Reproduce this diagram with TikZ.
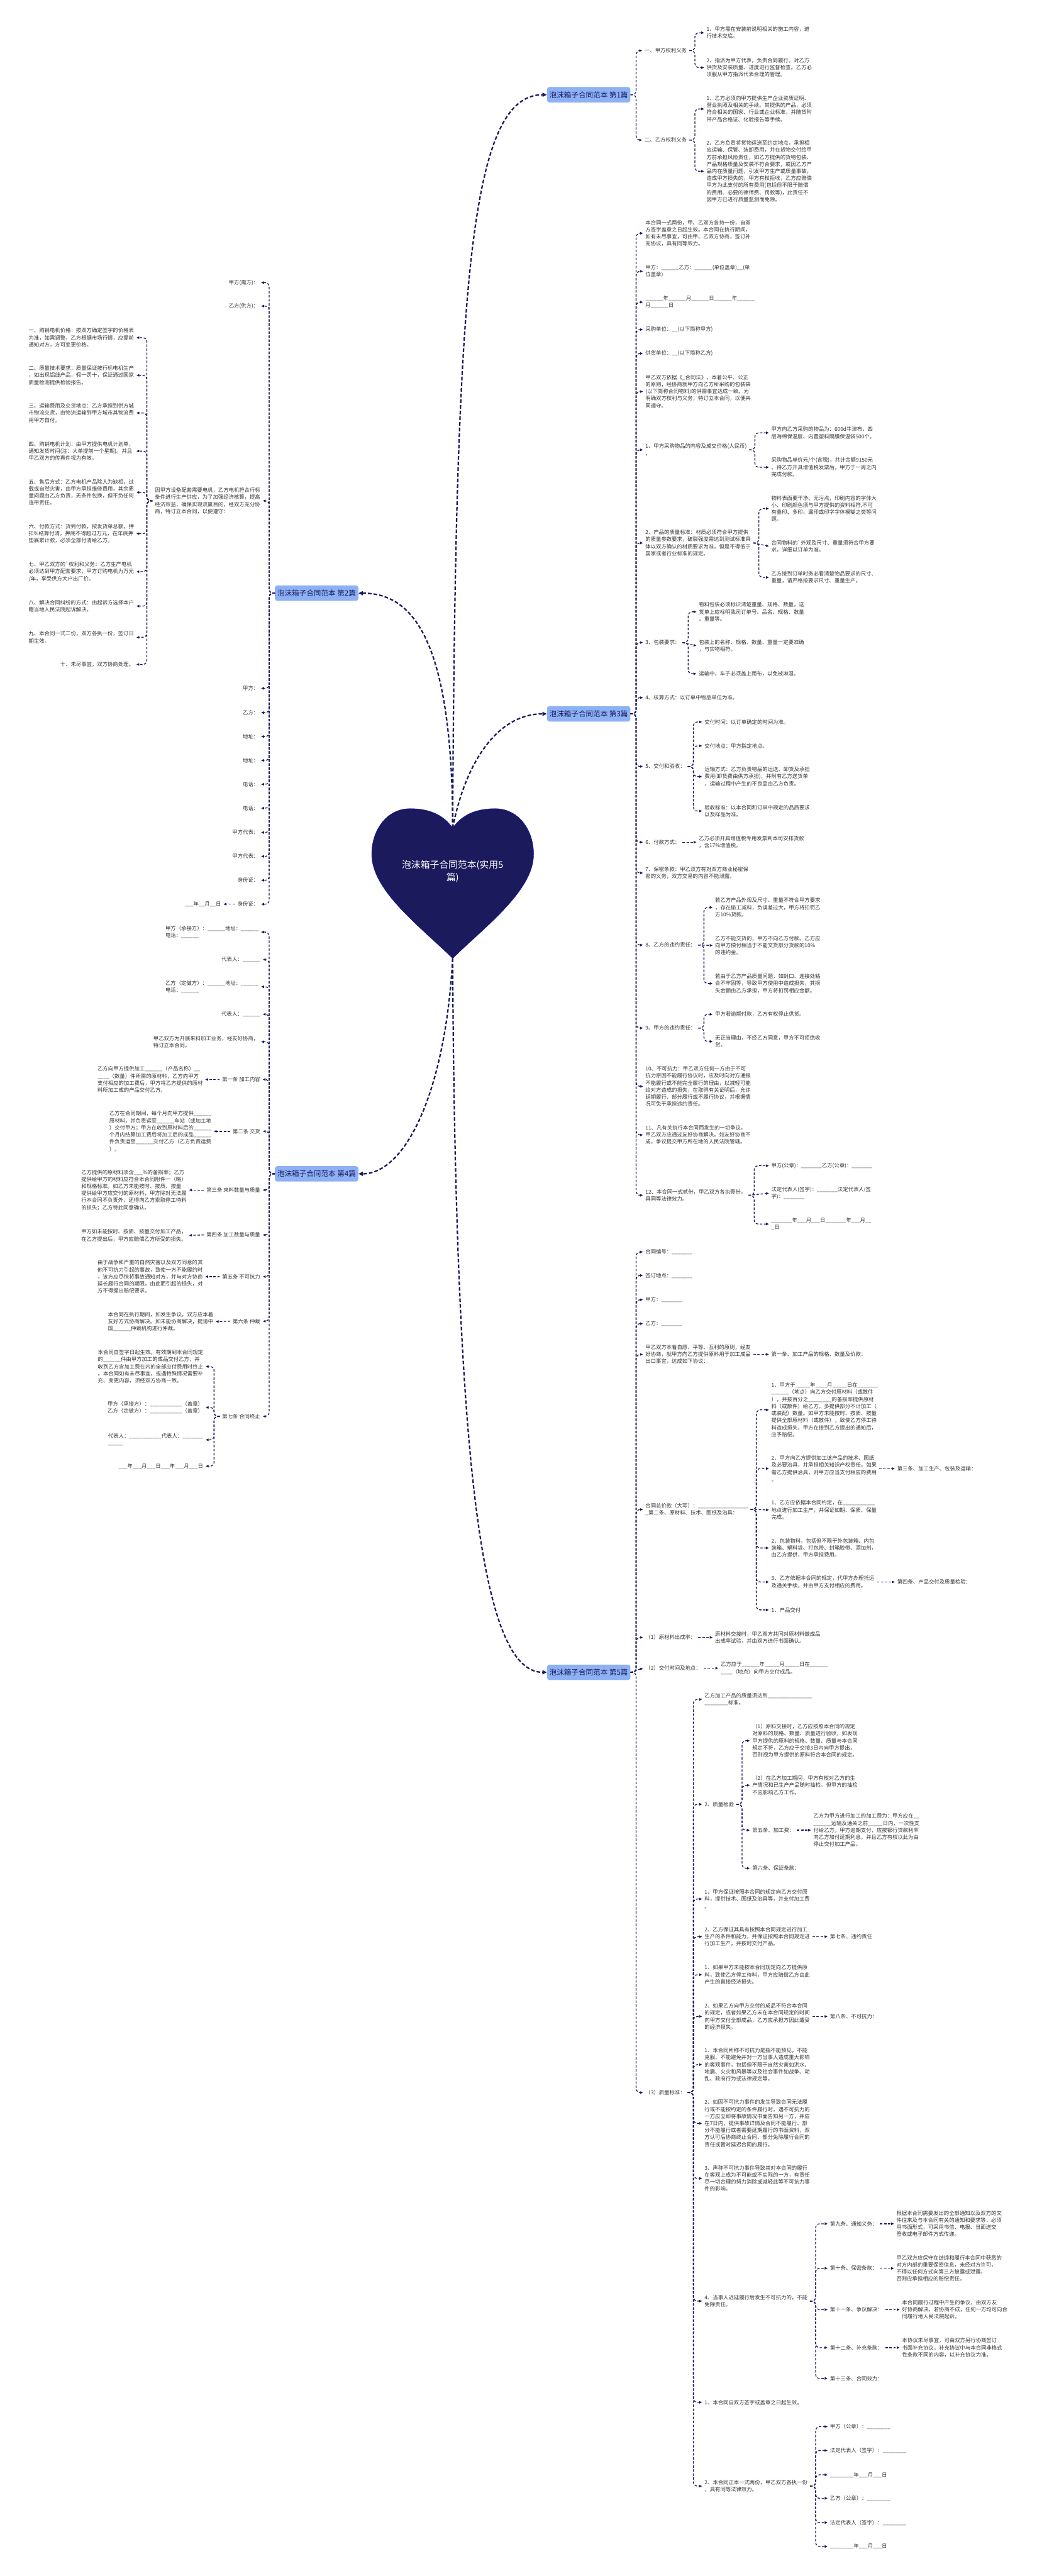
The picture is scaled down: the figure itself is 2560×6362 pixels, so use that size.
\documentclass[tikz,border=0pt]{standalone}
\usepackage{fontspec}
\setmainfont{Noto Sans CJK SC}
\usetikzlibrary{arrows.meta}
\definecolor{navy}{HTML}{1B1A5C}
\definecolor{bblue}{HTML}{8DB1F5}
\definecolor{txt}{HTML}{333333}
\newcommand\ub[1]{\foreach\ubi in {1,...,#1}{\_}}
\newcommand\rcon[2]{\draw[conn] (#1.east) -- ++(14,0) |- (#2.west);}
\newcommand\lcon[2]{\draw[conn] (#1.west) -- ++(-14,0) |- (#2.east);}
\newcommand\rstr[2]{\draw[conn] (#1.east) -- (#2.west);}
\newcommand\lstr[2]{\draw[conn] (#1.west) -- (#2.east);}
\begin{document}
\begin{tikzpicture}[x=1pt,y=-1pt,
  every node/.style={font=\fontsize{13}{17.4}\selectfont, text=txt, inner xsep=6pt, inner ysep=2pt, align=left},
  rt/.style={anchor=west},
  lt/.style={anchor=east},
  branch/.style={fill=bblue, rounded corners=6pt, minimum width=202pt, minimum height=38pt, font=\fontsize{18}{22}\selectfont, text=navy, anchor=center, align=center},
  conn/.style={draw=navy, line width=2pt, dash pattern=on 6pt off 4pt, rounded corners=10pt, -{Triangle[length=7pt,width=6pt]}},
  trunk/.style={draw=navy, line width=3.5pt, dash pattern=on 9pt off 5pt, -{Triangle[length=11pt,width=10pt]}}]
\fill[white] (0,0) rectangle (2560,6362);
\useasboundingbox (0,0) rectangle (2560,6362);

% ---------- heart ----------
\fill[navy, draw=blue!60!navy, line width=0.6pt] (1118,2045)
  .. controls (1095,2012) and (1060,1997) .. (1013,1997)
  .. controls (955,1997) and (918,2050) .. (918,2110)
  .. controls (918,2200) and (1040,2290) .. (1118,2367)
  .. controls (1196,2290) and (1318,2200) .. (1318,2110)
  .. controls (1318,2050) and (1281,1997) .. (1223,1997)
  .. controls (1176,1997) and (1141,2012) .. (1118,2045) -- cycle;
\coordinate (htop) at (1118,2045);
\coordinate (hbot) at (1118,2367);
\node[font=\fontsize{23}{31}\selectfont, text=white, align=center] (ht) at (1118,2152) {泡沫箱子合同范本(实用5\\篇)};

% ---------- branch nodes ----------
\node[branch] (b1) at (1454,234) {泡沫箱子合同范本 第1篇};
\node[branch] (b2) at (782,1465) {泡沫箱子合同范本 第2篇};
\node[branch] (b3) at (1454,1763) {泡沫箱子合同范本 第3篇};
\node[branch] (b4) at (782,2899) {泡沫箱子合同范本 第4篇};
\node[branch] (b5) at (1454,4130) {泡沫箱子合同范本 第5篇};

\draw[trunk] (htop) .. controls (1125,700) and (1160,234) .. (b1.west);
\draw[trunk] (htop) .. controls (1150,1880) and (1230,1763) .. (b3.west);
\draw[trunk] (htop) .. controls (1118,1560) and (1010,1465) .. (b2.east);
\draw[trunk] (hbot) .. controls (1100,2700) and (1000,2899) .. (b4.east);
\draw[trunk] (hbot) .. controls (1125,3700) and (1200,4130) .. (b5.west);

% ---------- 第1篇 ----------
\node[rt] (a1) at (1586,125) {一、甲方权利义务};
\node[rt] (a2) at (1586,346) {二、乙方权利义务};
\node[rt] (a11) at (1739,81) {1、甲方需在安装前说明相关的施工内容，进\\行技术交底。};
\node[rt] (a12) at (1739,167) {2、指派为甲方代表，负责合同履行。对乙方\\供货及安装质量、进度进行监督检查。乙方必\\须服从甲方指派代表合理的管理。};
\node[rt] (a21) at (1739,269) {1、乙方必须向甲方提供生产企业资质证明、\\营业执照及相关的手续。其提供的产品，必须\\符合相关的国家、行业或企业标准，并随货附\\带产品合格证、化验报告等手续。};
\node[rt] (a22) at (1739,423) {2、乙方负责将货物运送至约定地点，承担相\\应运输、保管、装卸费用，并在货物交付给甲\\方前承担风险责任，如乙方提供的货物包装、\\产品规格质量及安装不符合要求，或因乙方产\\品内在质量问题，引发甲方生产或质量事故，\\造成甲方损失的，甲方有权拒收，乙方应赔偿\\甲方为此支付的所有费用(包括但不限于赔偿\\的费用、必要的律师费、罚款等)，此责任不\\因甲方已进行质量监测而免除。};
\rcon{b1}{a1} \rcon{b1}{a2}
\rcon{a1}{a11} \rcon{a1}{a12}
\rcon{a2}{a21} \rcon{a2}{a22}

% ---------- 第3篇 ----------
\node[rt] (c1) at (1588,576) {本合同一式两份，甲、乙双方各持一份，自双\\方签字盖章之日起生效。本合同在执行期间，\\如有未尽事宜，可由甲、乙双方协商，签订补\\充协议，具有同等效力。};
\node[rt] (c2) at (1588,670) {甲方：\ub6乙方：\ub6(单位盖章)\ub2(单\\位盖章)};
\node[rt] (c3) at (1588,746) {\ub6年\ub6月\ub6日\ub6年\ub6\\月\ub6日};
\node[rt] (c4) at (1588,814) {采购单位：\ub2(以下简称甲方)};
\node[rt] (c5) at (1588,873) {供货单位：\ub2(以下简称乙方)};
\node[rt] (c6) at (1588,967) {甲乙双方依据《\_合同法》，本着公平、公正\\的原则，经协商就甲方向乙方所采购的包装袋\\(以下简称合同物料)的供需事宜达成一致。为\\明确双方权利与义务，特订立本合同，以便共\\同遵守。};
\node[rt] (c7) at (1588,1111) {1、甲方采购物品的内容及成交价格(人民币)\\。};
\node[rt] (c71) at (1899,1069) {甲方向乙方采购的物品为：600d牛津布、四\\层海绵保温层、内置塑料隔膜保温袋500个。};
\node[rt] (c72) at (1899,1154) {采购物品单价元/个(含税)，共计金额9150元\\。待乙方开具增值税发票后，甲方于一周之内\\完成付款。};
\node[rt] (c8) at (1588,1341) {2、产品的质量标准：材质必须符合甲方提供\\的质量参数要求，破裂强度需达到测试标准具\\体以双方确认的材质要求为准，但是不得低于\\国家或者行业标准的规定。};
\node[rt] (c81) at (1899,1256) {物料表面要干净、无污点，印刷内容的字体大\\小、印刷颜色须与甲方提供的资料相符,不可\\有叠印、多印、漏印或印字字体模糊之类等问\\题。};
\node[rt] (c82) at (1899,1349) {合同物料的\textasciigrave 外观及尺寸、重量须符合甲方要\\求，详细以订单为准。};
\node[rt] (c83) at (1899,1426) {乙方接到订单时务必看清楚物品要求的尺寸、\\重量，请严格按要求尺寸、重量生产。};
\node[rt] (c9) at (1588,1587) {3、包装要求：};
\node[rt] (c91) at (1720,1511) {物料包装必须标识清楚重量、规格、数量，送\\货单上应标明我司订单号、品名、规格、数量\\、重量等。};
\node[rt] (c92) at (1720,1595) {包装上的名称、规格、数量、重量一定要准确\\，与实物相符。};
\node[rt] (c93) at (1720,1664) {运输中，车子必须盖上雨布，以免被淋湿。};
\node[rt] (c10) at (1588,1723) {4、核算方式：以订单中物品单位为准。};
\node[rt] (c11) at (1588,1893) {5、交付和验收：};
\node[rt] (c111) at (1734,1783) {交付时间：以订单确定的时间为准。};
\node[rt] (c112) at (1734,1842) {交付地点：甲方指定地点。};
\node[rt] (c113) at (1734,1918) {运输方式：乙方负责物品的运送、卸货及承担\\费用(卸货费由供方承担)，并附有乙方送货单\\，运输过程中产生的不良品由乙方负责。};
\node[rt] (c114) at (1734,2003) {验收标准：以本合同和订单中规定的品质要求\\以及样品为准。};
\node[rt] (c12) at (1588,2080) {6、付款方式：};
\node[rt] (c121) at (1720,2080) {乙方必须开具增值税专用发票到本司安排货款\\，含17\%增值税。};
\node[rt] (c13) at (1588,2156) {7、保密条款：甲乙双方有对双方商业秘密保\\密的义务，双方交易的内容不能泄露。};
\node[rt] (c14) at (1588,2334) {8、乙方的违约责任：};
\node[rt] (c141) at (1760,2241) {若乙方产品外观及尺寸、重量不符合甲方要求\\，存在偷工减料，负误差过大，甲方将扣罚乙\\方10\%货款。};
\node[rt] (c142) at (1760,2335) {乙方不能交货的，甲方不向乙方付款。乙方应\\向甲方偿付相当于不能交货部分货款的10\%\\的违约金。};
\node[rt] (c143) at (1760,2429) {若由于乙方产品质量问题，如封口、连接处粘\\合不牢固等，导致甲方使用中造成损失，其损\\失金额由乙方承担，甲方将扣罚相应金额。};
\node[rt] (c15) at (1588,2539) {9、甲方的违约责任：};
\node[rt] (c151) at (1760,2505) {甲方若逾期付款，乙方有权停止供货。};
\node[rt] (c152) at (1760,2572) {无正当理由，不经乙方同意，甲方不可拒绝收\\货。};
\node[rt] (c16) at (1588,2683) {10、不可抗力：甲乙双方任何一方由于不可\\抗力原因不能履行协议时，应及时向对方通报\\不能履行或不能完全履行的理由，以减轻可能\\给对方造成的损失，在取得有关证明后，允许\\延期履行、部分履行或不履行协议，并根据情\\况可免于承担违约责任。};
\node[rt] (c17) at (1588,2803) {11、凡有关执行本合同而发生的一切争议，\\甲乙双方应通过友好协商解决。如友好协商不\\成，争议提交甲方所在地的人民法院管辖。};
\node[rt] (c18) at (1588,2952) {12、本合同一式贰份，甲乙双方各执壹份，\\具同等法律效力。};
\node[rt] (c181) at (1899,2879) {甲方(公章)：\ub7乙方(公章)：\ub7};
\node[rt] (c182) at (1899,2947) {法定代表人(签字)：\ub7法定代表人(签\\字)：\ub7};
\node[rt] (c183) at (1899,3023) {\ub7年\ub3月\ub3日\ub7年\ub3月\ub2\\\_日};
\foreach \n in {c1,c2,c3,c4,c5,c6,c7,c8,c9,c10,c11,c12,c13,c14,c15,c16,c17,c18} {\rcon{b3}{\n}}
\rcon{c7}{c71} \rcon{c7}{c72}
\rcon{c8}{c81} \rstr{c8}{c82} \rcon{c8}{c83}
\rcon{c9}{c91} \rstr{c9}{c92} \rcon{c9}{c93}
\rcon{c11}{c111} \rcon{c11}{c112} \rcon{c11}{c113} \rcon{c11}{c114}
\rstr{c12}{c121}
\rcon{c14}{c141} \rstr{c14}{c142} \rcon{c14}{c143}
\rcon{c15}{c151} \rcon{c15}{c152}
\rcon{c18}{c181} \rstr{c18}{c182} \rcon{c18}{c183}

% ---------- 第5篇 ----------
\node[rt] (d1) at (1588,3092) {合同编号：\ub7};
\node[rt] (d2) at (1588,3150) {签订地点：\ub7};
\node[rt] (d3) at (1588,3210) {甲方：\ub7};
\node[rt] (d4) at (1588,3269) {乙方：\ub7};
\node[rt] (d5) at (1588,3345) {甲乙双方本着自愿、平等、互利的原则，经友\\好协商，就甲方向乙方提供原料用于加工成品\\出口事宜，达成如下协议：};
\node[rt] (d51) at (1899,3345) {第一条、加工产品的规格、数量及价款：};
\node[rt] (d6) at (1588,3728) {合同总价款（大写）：\ub{17}\\\_第二条、原材料、技术、图纸及治具：};
\node[rt] (d61) at (1899,3482) {1、甲方于\ub5年\ub4月\ub5日在\ub7\\\ub6（地点）向乙方交付原材料（或散件\\），并按百分之\ub8的备损率提供原材\\料（或散件）给乙方，多提供部分不计加工（\\或装配）数量。如甲方未能按时、按质、按量\\提供全部原材料（或散件），致使乙方停工待\\料造成损失，甲方在接到乙方提出的通知后，\\应予赔偿。};
\node[rt] (d62) at (1899,3627) {2、甲方向乙方提供加工该产品的技术、图纸\\及必要治具，并承担相关知识产权责任。如果\\需乙方提供治具，则甲方应当支付相应的费用\\。};
\node[rt] (d621) at (2210,3627) {第三条、加工生产、包装及运输：};
\node[rt] (d63) at (1899,3729) {1、乙方应依据本合同约定，在\ub{11}\\地点进行加工生产，并保证如期、保质、保量\\完成。};
\node[rt] (d64) at (1899,3823) {2、包装物料，包括但不限于外包装箱、内包\\装箱、塑料袋、打包带、封箱胶带、添加剂，\\由乙方提供，甲方承担费用。};
\node[rt] (d65) at (1899,3907) {3、乙方依据本合同的规定，代甲方办理托运\\及通关手续，并由甲方支付相应的费用。};
\node[rt] (d651) at (2210,3907) {第四条、产品交付及质量检验：};
\node[rt] (d66) at (1899,3976) {1、产品交付};
\node[rt] (d7) at (1588,4044) {（1）原材料出成率：};
\node[rt] (d71) at (1760,4044) {原材料交接时，甲乙双方共同对原材料做成品\\出成率试验，并由双方进行书面确认。};
\node[rt] (d8) at (1588,4120) {（2）交付时间及地点：};
\node[rt] (d81) at (1774,4120) {乙方应于\ub6年\ub5月\ub5日在\ub6\\\ub4（地点）向甲方交付成品。};
\node[rt] (d9) at (1588,5168) {（3）质量标准：};
\node[rt] (e91) at (1734,4197) {乙方加工产品的质量须达到\ub{15}\\\ub8标准。};
\node[rt] (e92) at (1734,4456) {2、质量检验};
\node[rt] (e921) at (1852,4299) {（1）原料交接时，乙方应按照本合同的规定\\对原料的规格、数量、质量进行验收，如发现\\甲方提供的原料的规格、数量、质量与本合同\\规定不符，乙方应于交接3日内向甲方提出，\\否则视为甲方提供的原料符合本合同的规定。};
\node[rt] (e922) at (1852,4409) {（2）在乙方加工期间，甲方有权对乙方的生\\产情况和已生产产品随时抽检。但甲方的抽检\\不应影响乙方工作。};
\node[rt] (e923) at (1852,4520) {第五条、加工费：};
\node[rt] (e9231) at (2003,4520) {乙方为甲方进行加工的加工费为：甲方应在\_\_\\\ub6运输及通关之前\ub5日内，一次性支\\付给乙方，甲方逾期支付，应按银行贷款利率\\向乙方加付延期利息，并且乙方有权以此为由\\停止交付加工产品。};
\node[rt] (e924) at (1852,4614) {第六条、保证条款：};
\node[rt] (e93) at (1734,4690) {1、甲方保证按照本合同的规定向乙方交付原\\料，提供技术、图纸及治具等，并支付加工费\\。};
\node[rt] (e94) at (1734,4783) {2、乙方保证其具有按照本合同规定进行加工\\生产的条件和能力，并保证按照本合同规定进\\行加工生产，并按时交付产品。};
\node[rt] (e941) at (2044,4783) {第七条、违约责任};
\node[rt] (e95) at (1734,4877) {1、如果甲方未能按本合同规定向乙方提供原\\料，致使乙方停工待料，甲方应赔偿乙方由此\\产生的直接经济损失。};
\node[rt] (e96) at (1734,4980) {2、如果乙方向甲方交付的成品不符合本合同\\的规定，或者如果乙方未在本合同规定的时间\\向甲方交付全部成品，乙方应承担方因此遭受\\的经济损失。};
\node[rt] (e961) at (2044,4980) {第八条、不可抗力：};
\node[rt] (e97) at (1734,5099) {1、本合同所称不可抗力是指不能预见，不能\\克服、不能避免并对一方当事人造成重大影响\\的客观事件，包括但不限于自然灾害如洪水、\\地震、火灾和风暴等以及社会事件如战争、动\\乱、政府行为或法律规定等。};
\node[rt] (e98) at (1734,5244) {2、如因不可抗力事件的发生导致合同无法履\\行或不能按约定的条件履行时，遇不可抗力的\\一方应立即将事故情况书面告知另一方，并应\\在7日内，提供事故详情及合同不能履行、部\\分不能履行或者需要延期履行的书面资料，双\\方认可后协商终止合同、部分免除履行合同的\\责任或暂时延迟合同的履行。};
\node[rt] (e99) at (1734,5380) {3、声称不可抗力事件导致其对本合同的履行\\在客观上成为不可能或不实际的一方，有责任\\尽一切合理的努力消除或减轻此等不可抗力事\\件的影响。};
\node[rt] (e910) at (1734,5683) {4、当事人迟延履行后发生不可抗力的，不能\\免除责任。};
\node[rt] (g1) at (2044,5492) {第九条、通知义务：};
\node[rt] (g11) at (2208,5492) {根据本合同需要发出的全部通知以及双方的文\\件往来及与本合同有关的通知和要求等，必须\\用书面形式，可采用书信、电报、当面送交\\签收或电子邮件方式传递。};
\node[rt] (g2) at (2044,5602) {第十条、保密条款：};
\node[rt] (g21) at (2208,5602) {甲乙双方应保守在结缔和履行本合同中获悉的\\对方内部的重要保密信息，未经对方许可，\\不得以任何方式向第三方披露或泄露，\\否则应承担相应的赔偿责任。};
\node[rt] (g3) at (2044,5704) {第十一条、争议解决：};
\node[rt] (g31) at (2222,5704) {本合同履行过程中产生的争议，由双方友\\好协商解决。若协商不成，任何一方均可向合\\同履行地人民法院起诉。};
\node[rt] (g4) at (2044,5798) {第十二条、补充条款：};
\node[rt] (g41) at (2222,5798) {本协议未尽事宜，可由双方另行协商签订\\书面补充协议，补充协议中与本合同非格式\\性条款不同的内容，以补充协议为准。};
\node[rt] (g5) at (2044,5874) {第十三条、合同效力：};
\node[rt] (e911) at (1734,5933) {1、本合同自双方签字或盖章之日起生效。};
\node[rt] (e912) at (1734,6140) {2、本合同正本一式两份，甲乙双方各执一份\\，具有同等法律效力。};
\node[rt] (h1) at (2044,5993) {甲方（公章）：\ub8};
\node[rt] (h2) at (2044,6052) {法定代表人（签字）：\ub8};
\node[rt] (h3) at (2044,6112) {\ub8年\ub3月\ub3日};
\node[rt] (h4) at (2044,6170) {乙方（公章）：\ub8};
\node[rt] (h5) at (2044,6230) {法定代表人（签字）：\ub8};
\node[rt] (h6) at (2044,6289) {\ub8年\ub3月\ub3日};
\foreach \n in {d1,d2,d3,d4,d5,d6,d7,d9} {\rcon{b5}{\n}}
\rstr{b5}{d8}
\rstr{d5}{d51}
\rcon{d6}{d61} \rcon{d6}{d62} \rstr{d6}{d63} \rcon{d6}{d64} \rcon{d6}{d65} \rcon{d6}{d66}
\rstr{d62}{d621} \rstr{d65}{d651}
\rstr{d7}{d71} \rstr{d8}{d81}
\foreach \n in {e91,e92,e93,e94,e95,e96,e97,e98,e99,e910,e911,e912} {\rcon{d9}{\n}}
\rcon{e92}{e921} \rcon{e92}{e922} \rcon{e92}{e923} \rcon{e92}{e924}
\rstr{e923}{e9231}
\rstr{e94}{e941} \rstr{e96}{e961}
\foreach \n in {g1,g2,g3,g4,g5} {\rcon{e910}{\n}}
\rstr{g1}{g11} \rstr{g2}{g21} \rstr{g3}{g31} \rstr{g4}{g41}
\foreach \n in {h1,h2,h3,h4,h5,h6} {\rcon{e912}{\n}}

% ---------- 第2篇 ----------
\node[lt] (p1) at (645,698) {甲方(需方)：};
\node[lt] (p2) at (645,756) {乙方(供方)：};
\node[lt] (p3) at (649,1237) {因甲方设备配套需要电机，乙方电机符合行标\\条件进行生产供应，为了加强经济核算，提高\\经济效益，确保实现双赢目的，经双方充分协\\商，特订立本合同，以便遵守：};
\node[lt] (p31) at (337,834) {一、购销电机价格：按双方确定签字的价格表\\为准，如需调整，乙方根据市场行情，应提前\\通知对方，方可变更价格。};
\node[lt] (p32) at (337,927) {二、质量技术要求：质量保证按行标电机生产\\，如出现铝线产品，假一罚十，保证通过国家\\质量检测提供检验报告。};
\node[lt] (p33) at (337,1020) {三、运输费用及交货地点：乙方承担到供方城\\市物流交货，由物流运输到甲方城市其物流费\\用甲方自付。};
\node[lt] (p34) at (337,1114) {四、购销电机计划：由甲方提供电机计划单，\\通知发货时间(注：大单提前一个星期)。并且\\甲乙双方的传真件视为有效。};
\node[lt] (p35) at (337,1216) {五、售后方式：乙方电机产品除人为缺相，过\\载或自然灾害，由甲方承担维修费用，其余质\\量问题由乙方负责，无条件包换，但不负任何\\连带责任。};
\node[lt] (p36) at (337,1318) {六、付款方式：货到付款，按发货单总额，押\\扣\%结算付清，押底不得超过万元，在年底押\\垫底累计款，必须全部付清给乙方。};
\node[lt] (p37) at (337,1412) {七、甲乙双方的\textasciigrave 权利和义务：乙方生产电机\\必须达到甲方配套要求，甲方订购电机为万元\\/年，享受供方大户出厂价。};
\node[lt] (p38) at (337,1497) {八、解决合同纠纷的方式：由起诉方选择本户\\籍当地人民法院起诉解决。};
\node[lt] (p39) at (337,1574) {九、本合同一式二份，双方各执一份，签订日\\期生效。};
\node[lt] (p310) at (337,1641) {十、未尽事宜，双方协商处理。};
\node[lt] (p4) at (645,1700) {甲方：};
\node[lt] (p5) at (645,1760) {乙方：};
\node[lt] (p6) at (645,1819) {地址：};
\node[lt] (p7) at (645,1878) {地址：};
\node[lt] (p8) at (645,1937) {电话：};
\node[lt] (p9) at (645,1996) {电话：};
\node[lt] (p10) at (645,2056) {甲方代表：};
\node[lt] (p11) at (645,2115) {甲方代表：};
\node[lt] (p12) at (645,2174) {身份证：};
\node[lt] (p13) at (645,2233) {身份证：};
\node[lt] (p131) at (552,2233) {\ub3年\ub2月\ub2日};
\foreach \n in {p1,p2,p3,p4,p5,p6,p7,p8,p9,p10,p11,p12,p13} {\lcon{b2}{\n}}
\foreach \n in {p31,p32,p33,p34,p35,p36,p37,p38,p39,p310} {\lcon{p3}{\n}}
\lstr{p13}{p131}

% ---------- 第4篇 ----------
\node[lt] (q1) at (645,2302) {甲方（承接方）：\ub6地址：\ub6\\电话：\ub6};
\node[lt] (q2) at (649,2370) {代表人：\ub6};
\node[lt] (q3) at (645,2437) {乙方（定做方）：\ub6地址：\ub6\\电话：\ub6};
\node[lt] (q4) at (649,2505) {代表人：\ub6};
\node[lt] (q5) at (645,2573) {甲乙双方为开展来料加工业务，经友好协商，\\特订立本合同。};
\node[lt] (q6) at (649,2666) {第一条 加工内容};
\node[lt] (q61) at (507,2666) {乙方向甲方提供加工\ub6（产品名称）\ub2\\\ub4（数量）件所需的原材料，乙方向甲方\\支付相应的加工费后，甲方将乙方提供的原材\\料所加工成的产品交付乙方。};
\node[lt] (q7) at (649,2794) {第二条 交货};
\node[lt] (q71) at (528,2794) {乙方在合同期间，每个月向甲方提供\ub6\\原材料，并负责运至\ub6车站（或加工地\\）交付甲方；甲方在收到原材料后的\ub6\\个月内结算加工费后将加工后的成品\ub6\\件负责运至\ub6交付乙方（乙方负责运费\\）。};
\node[lt] (q8) at (649,2939) {第三条 来料数量与质量};
\node[lt] (q81) at (467,2939) {乙方提供的原材料须含\ub3\%的备损率；乙方\\提供给甲方的材料应符合本合同附件一（略）\\和规格标准。如乙方未能按时、按质、按量\\提供给甲方应交付的原材料，甲方除对无法履\\行本合同不负责外，还得向乙方索取停工待料\\的损失；乙方特此同意确认。};
\node[lt] (q9) at (649,3050) {第四条 加工数量与质量};
\node[lt] (q91) at (467,3051) {甲方如未能按时、按质、按量交付加工产品，\\在乙方提出后，甲方应赔偿乙方所受的损失。};
\node[lt] (q10) at (649,3153) {第五条 不可抗力};
\node[lt] (q101) at (507,3153) {由于战争和严重的自然灾害以及双方同意的其\\他不可抗力引起的事故，致使一方不能履约时\\，该方应尽快将事故通知对方，并与对方协商\\延长履行合同的期限。由此而引起的损失，对\\方不得提出赔偿要求。};
\node[lt] (q11) at (649,3263) {第六条 仲裁};
\node[lt] (q111) at (533,3264) {本合同在执行期间，如发生争议，双方应本着\\友好方式协商解决。如未能协商解决，提请中\\国\ub6仲裁机构进行仲裁。};
\node[lt] (q12) at (649,3498) {第七条 合同终止};
\node[lt] (q121) at (508,3375) {本合同自签字日起生效。有效期到本合同规定\\的\ub6件由甲方加工的成品交付乙方，并\\收到乙方含加工费在内的全部应付费用时终止\\。本合同如有未尽事宜，或遇特殊情况需要补\\充、变更内容，须经双方协商一致。};
\node[lt] (q122) at (508,3476) {甲方（承接方）：\ub{11}（盖章）\\乙方（定做方）：\ub{11}（盖章）};
\node[lt] (q123) at (508,3556) {代表人：\ub{11}代表人：\ub7\\\ub5};
\node[lt] (q124) at (508,3621) {\ub3年\ub3月\ub3日\ub3年\ub3月\ub3日};
\foreach \n in {q1,q2,q3,q4,q5,q6,q7,q8,q9,q10,q11,q12} {\lcon{b4}{\n}}
\lstr{q6}{q61} \lstr{q7}{q71} \lstr{q8}{q81} \lstr{q9}{q91} \lstr{q10}{q101} \lstr{q11}{q111}
\foreach \n in {q121,q122,q123,q124} {\lcon{q12}{\n}}
\end{tikzpicture}
\end{document}
